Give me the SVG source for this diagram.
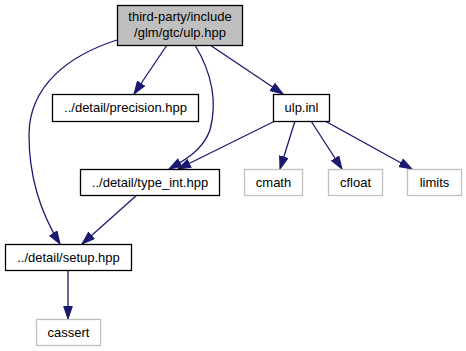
<svg xmlns="http://www.w3.org/2000/svg" width="466" height="351" viewBox="0 0 466 351">
  <style>
    .box { fill: #ffffff; stroke: #000000; stroke-width: 1.3; }
    .root { fill: #bfbfbf; stroke: #000000; stroke-width: 1.3; }
    .ext { fill: #ffffff; stroke: #bfbfbf; stroke-width: 1.3; }
    text { font-family: "Liberation Sans", Arial, sans-serif; font-size: 13px; fill: #000000; text-anchor: middle; }
    .edge { fill: none; stroke: #191970; stroke-width: 1.3; marker-end: url(#arrow); }
  </style>
  <defs>
    <marker id="arrow" markerUnits="userSpaceOnUse" markerWidth="14" markerHeight="11" refX="13" refY="4.8" orient="auto">
      <path d="M0.5,0.5 L13,4.8 L0.5,9.1 Z" fill="#191970" stroke="#191970" stroke-width="1"/>
    </marker>
  </defs>
  <rect width="466" height="351" fill="#ffffff"/>

  <g id="edges">
    <path class="edge" d="M117,40 C70,55 29,85 29,135 C29,185 45,220 60,244"/>
    <path class="edge" d="M167,45 L134,94"/>
    <path class="edge" d="M195,45 C210,70 218,100 210,130 C203,150 185,160 169,169"/>
    <path class="edge" d="M210,45 L283,94"/>
    <path class="edge" d="M275,121 L178,169"/>
    <path class="edge" d="M295,121 L280,169"/>
    <path class="edge" d="M311,121 L342,169"/>
    <path class="edge" d="M325,121 L412,169"/>
    <path class="edge" d="M137,195 L82,244"/>
    <path class="edge" d="M68,270 L68,319"/>
  </g>

  <g id="node-ulp-hpp">
    <rect class="root" x="117.5" y="5.5" width="125" height="40"/>
    <text x="180" y="21">third-party/include</text>
    <text x="180" y="37">/glm/gtc/ulp.hpp</text>
  </g>
  <g id="node-precision">
    <rect class="box" x="52.5" y="94.5" width="146" height="27"/>
    <text x="125.5" y="112">../detail/precision.hpp</text>
  </g>
  <g id="node-ulp-inl">
    <rect class="box" x="273.5" y="94.5" width="56" height="27"/>
    <text x="301.5" y="112">ulp.inl</text>
  </g>
  <g id="node-type-int">
    <rect class="box" x="80.5" y="169.5" width="139" height="26"/>
    <text x="150" y="187">../detail/type_int.hpp</text>
  </g>
  <g id="node-cmath">
    <rect class="ext" x="244.5" y="169.5" width="58" height="26"/>
    <text x="273.5" y="187">cmath</text>
  </g>
  <g id="node-cfloat">
    <rect class="ext" x="328.5" y="169.5" width="54" height="26"/>
    <text x="355.5" y="187">cfloat</text>
  </g>
  <g id="node-limits">
    <rect class="ext" x="407.5" y="169.5" width="54" height="26"/>
    <text x="434.5" y="187">limits</text>
  </g>
  <g id="node-setup">
    <rect class="box" x="5.5" y="244.5" width="126" height="26"/>
    <text x="68.5" y="262">../detail/setup.hpp</text>
  </g>
  <g id="node-cassert">
    <rect class="ext" x="36.5" y="319.5" width="64" height="26"/>
    <text x="68.5" y="337">cassert</text>
  </g>
</svg>
